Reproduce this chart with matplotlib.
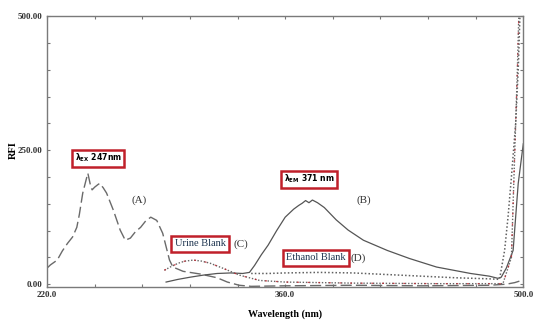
import matplotlib
matplotlib.use("Agg")
import matplotlib.pyplot as plt
import numpy as np

# ---------------------------------------------------------------------------
# Data (wavelength nm, RFI)
# ---------------------------------------------------------------------------

# (A) excitation spectrum
a_wl = [220, 222, 226, 229, 232, 235, 237.5, 239, 241, 243, 244, 245.5, 246.5,
        248, 250, 251, 253, 255, 259, 263, 266, 269, 272, 275, 278, 281, 284.5,
        288, 292, 294, 300, 310, 320, 326, 333, 340, 360, 400, 440, 480, 490,
        495, 500]
a_rfi = [30, 36, 45, 62, 76, 88, 106, 130, 170, 195, 207, 185, 176,
         181, 186, 188, 180, 170, 138, 101, 82, 86, 98, 106, 118, 125, 119,
         95, 45, 32, 24, 19, 12, 4, -2, -4, -3, -2, -3, -2, 0,
         3, 8]

# (B) emission spectrum
b_wl = [290, 297, 304, 312, 320, 328, 335, 339, 342, 346, 350, 355, 360, 365,
        368, 370, 372, 374, 376, 379, 383, 390, 397, 406, 420, 433, 449, 469,
        480, 485, 487, 490, 494, 497, 499.5, 500]
b_rfi = [4, 9, 13, 17, 20, 21, 20, 22, 35, 55, 73, 100, 125, 140,
         147, 151, 156, 152, 157, 152, 143, 120, 101, 82, 63, 48, 32, 20,
         15, 11, 13, 30, 63, 188, 250, 262]

# (C) urine blank
c_wl = [289, 293, 297, 301, 306, 311, 316, 324, 333, 345, 360, 380, 400, 450,
        488, 493, 494.5, 495.5, 496.5, 497.5]
c_rfi = [26, 33, 39, 43, 45, 43, 39, 29, 17, 7, 4, 3, 2, 1,
         1, 50, 200, 300, 400, 520]

# (D) ethanol blank
d_wl = [340, 350, 360, 380, 400, 420, 440, 460, 480, 486, 489, 491, 493,
        495.5, 497, 498.2]
d_rfi = [20, 20, 21, 22, 21, 18, 15, 12, 10, 9, 63, 125, 200,
         300, 400, 520]

SERIF = "Liberation Serif"
RED = "#c0202a"

fig = plt.figure(figsize=(5.5, 3.23), dpi=100)
ax = fig.add_axes([0.0855, 0.111, 0.866, 0.839])

ax.plot(a_wl, a_rfi, color="#6a6a6a", lw=1.0, dashes=(8, 3))
ax.plot(b_wl, b_rfi, color="#555555", lw=0.9)
ax.plot(c_wl, c_rfi, color="#666666", lw=1.0, dashes=(1, 1.3))
ax.plot(c_wl, c_rfi, color=RED, lw=0.9, dashes=(1.5, 7), alpha=0.8)
ax.plot(d_wl, d_rfi, color="#606060", lw=1.1, dashes=(1, 1.4))

ax.set_xlim(220, 500)
ax.set_ylim(-5.5, 500)

xt = np.arange(220, 501, 28)
ax.set_xticks(xt)
ax.set_xticklabels([f"{v:.1f}" if v in (220, 360, 500) else "" for v in xt])
ax.set_yticks(np.arange(0, 501, 50))
ax.set_yticklabels([f"{v:.2f}" if v % 250 == 0 else "" for v in range(0, 501, 50)])
ax.tick_params(direction="in", length=2, width=0.8, color="#777777",
               top=True, right=True, labelsize=6.5, pad=3)
for lab in ax.get_xticklabels() + ax.get_yticklabels():
    lab.set_fontfamily(SERIF)
    lab.set_fontweight("bold")
    lab.set_color("#333333")
for s in ax.spines.values():
    s.set_color("#7a7a7a")
    s.set_linewidth(1.0)

ax.set_xlabel("Wavelength (nm)", fontfamily=SERIF, fontweight="bold",
              fontsize=7.2, labelpad=7)
fig.text(13 / 550, 1 - 150 / 323, "RFI", rotation=90, fontfamily=SERIF,
         fontweight="bold", fontsize=7.5, ha="center", va="center")

# boxed annotations
box = dict(boxstyle="square,pad=0.3", facecolor="white", edgecolor=RED, lw=1.8)
ax.text(250, 235, r"$\mathbf{\lambda_{EX}}$ 247nm", fontsize=5.6,
        fontweight="bold", ha="center", va="center", bbox=box)
ax.text(374, 196, r"$\mathbf{\lambda_{EM}}$ 371 nm", fontsize=5.6,
        fontweight="bold", ha="center", va="center", bbox=box)
ax.text(310, 75, "Urine Blank", fontsize=7.5, fontfamily=SERIF,
        color="#1f3550", ha="center", va="center", bbox=box)
ax.text(378, 49, "Ethanol Blank", fontsize=7.5, fontfamily=SERIF,
        color="#1f3550", ha="center", va="center", bbox=box)

for x, y, s in [(274, 157, "(A)"), (406, 157, "(B)"),
                (334, 75, "(C)"), (403, 49, "(D)")]:
    ax.text(x, y, s, fontsize=8, fontfamily=SERIF, color="#333333",
            ha="center", va="center")

fig.savefig("out.png", dpi=100)
